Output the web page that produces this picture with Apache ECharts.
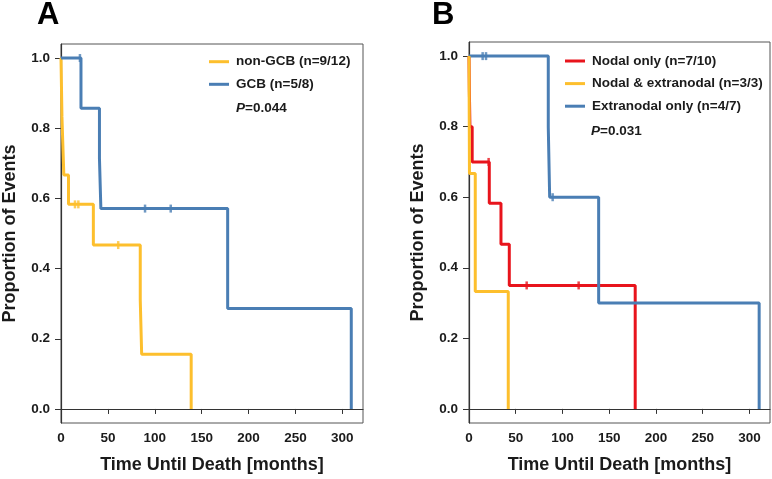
<!DOCTYPE html>
<html>
<head>
<meta charset="utf-8">
<script src="https://cdn.jsdelivr.net/npm/echarts@6/dist/echarts.min.js"></script>
<style>
html,body{margin:0;padding:0;background:#fff;}
#chart{width:772px;height:479px;}
</style>
</head>
<body>
<div id="chart"></div>
<script>
// ---------- DATA ----------
const xTicks = [0, 50, 100, 150, 200, 250, 300];
const yTicks = [0, 0.2, 0.4, 0.6, 0.8, 1.0];

// Panel A
const aNonGcbName = 'non-GCB (n=9/12)';
const aNonGcbTimes = [0, 0.5, 1, 2, 3, 8, 34.5, 84.5, 86, 138.8];
const aNonGcbSurv  = [1, 0.917, 0.833, 0.75, 0.667, 0.583, 0.467, 0.311, 0.156, 0];
const aNonGcbCensorTimes = [14.9, 18.5, 61];
const aNonGcbCensorSurv  = [0.583, 0.583, 0.467];

const aGcbName = 'GCB (n=5/8)';
const aGcbTimes = [0, 21.3, 41, 42.5, 177.7, 309.5];
const aGcbSurv  = [1, 0.857, 0.714, 0.571, 0.286, 0];
const aGcbCensorTimes = [20.2, 89.6, 117];
const aGcbCensorSurv  = [1, 0.571, 0.571];
const aPValue = '0.044';

// Panel B
const bNodalName = 'Nodal only (n=7/10)';
const bNodalTimes = [0, 0.4, 1, 3.4, 21.7, 34.2, 43.1, 177.8];
const bNodalSurv  = [1, 0.9, 0.8, 0.7, 0.583, 0.467, 0.35, 0];
const bNodalCensorTimes = [21, 61.7, 117.3];
const bNodalCensorSurv  = [0.7, 0.35, 0.35];

const bBothName = 'Nodal & extranodal (n=3/3)';
const bBothTimes = [0, 0.5, 6.7, 42];
const bBothSurv  = [1, 0.667, 0.333, 0];
const bBothCensorTimes = [];
const bBothCensorSurv  = [];

const bExtraName = 'Extranodal only (n=4/7)';
const bExtraTimes = [0, 84.8, 86.3, 138.7, 310.4];
const bExtraSurv  = [1, 0.8, 0.6, 0.3, 0];
const bExtraCensorTimes = [14.6, 18.2, 89.5];
const bExtraCensorSurv  = [1, 1, 0.6];
const bPValue = '0.031';

// ---------- STYLE ----------
const YELLOW = '#FDBF2D';
const BLUE = '#4A7EB4';
const RED = '#E8141C';
const FONT = '"Liberation Sans", Arial, Helvetica, sans-serif';
const TXT = '#1b1b1b';

function zip(a, b) { return a.map((v, i) => [v, b[i]]); }

function kmSeries(name, times, surv, color, idx) {
  return {
    name: name, type: 'line', step: 'end',
    xAxisIndex: idx, yAxisIndex: idx,
    data: zip(times, surv),
    symbol: 'none', silent: true, animation: false,
    lineStyle: { color: color, width: 3 },
    itemStyle: { color: color }
  };
}
function censorSeries(times, surv, color, idx) {
  return {
    type: 'scatter', xAxisIndex: idx, yAxisIndex: idx,
    data: zip(times, surv), symbol: 'rect', symbolSize: [2.5, 8],
    silent: true, animation: false,
    itemStyle: { color: color }
  };
}
function xAxis(idx) {
  return {
    type: 'value', gridIndex: idx, min: 0, max: 322,
    name: 'Time Until Death [months]', nameLocation: 'middle', nameGap: 33,
    nameTextStyle: { fontFamily: FONT, fontWeight: 'bold', fontSize: 18, color: TXT },
    axisLine: { show: true, lineStyle: { color: '#333', width: 1.2 } },
    axisTick: { show: true, length: 5, customValues: xTicks, lineStyle: { color: '#333' } },
    axisLabel: { customValues: xTicks, margin: 8, fontFamily: FONT, fontWeight: 'bold', fontSize: 13.5, color: TXT },
    splitLine: { show: false }
  };
}
function yAxis(idx) {
  return {
    type: 'value', gridIndex: idx, min: -0.04, max: 1.04,
    name: 'Proportion of Events', nameLocation: 'middle', nameGap: 42,
    nameTextStyle: { fontFamily: FONT, fontWeight: 'bold', fontSize: 18, color: TXT },
    axisLine: { show: true, lineStyle: { color: '#333', width: 1.2 } },
    axisTick: { show: true, length: 6, customValues: yTicks, lineStyle: { color: '#333' } },
    axisLabel: { customValues: yTicks, margin: 11, fontFamily: FONT, fontWeight: 'bold', fontSize: 13.5, color: TXT,
      formatter: v => v.toFixed(1) },
    splitLine: { show: false }
  };
}
function legend(names, left, top) {
  return {
    data: names, orient: 'vertical', left: left, top: top, padding: 0,
    itemWidth: 20, itemHeight: 3, itemGap: 6.6, icon: 'rect', selectedMode: false,
    textStyle: { fontFamily: FONT, fontWeight: 'bold', fontSize: 13.5, color: TXT, lineHeight: 16, padding: [0, 0, 0, 2] }
  };
}
function pText(x, y, p) {
  return {
    type: 'text', left: x, top: y, silent: true,
    style: {
      text: '{i|P}{n|=' + p + '}',
      rich: {
        i: { fontFamily: FONT, fontWeight: 'bold', fontStyle: 'italic', fontSize: 13.5, fill: TXT },
        n: { fontFamily: FONT, fontWeight: 'bold', fontSize: 13.5, fill: TXT }
      }
    }
  };
}

const chart = echarts.init(document.getElementById('chart'), null, { renderer: 'canvas' });
chart.setOption({
  animation: false,
  backgroundColor: '#fff',
  grid: [
    { left: 61, top: 44, width: 302, height: 382, show: true, borderColor: '#555', borderWidth: 1, containLabel: false },
    { left: 469, top: 42, width: 301, height: 381, show: true, borderColor: '#555', borderWidth: 1, containLabel: false }
  ],
  xAxis: [xAxis(0), xAxis(1)],
  yAxis: [yAxis(0), yAxis(1)],
  legend: [
    legend([aNonGcbName, aGcbName], 209, 53.7),
    legend([bNodalName, bBothName, bExtraName], 565, 53)
  ],
  graphic: [
    { type: 'text', left: 37, top: 0, silent: true,
      style: { text: 'A', fontFamily: FONT, fontWeight: 'bold', fontSize: 31, fill: '#000' } },
    { type: 'text', left: 432, top: 0, silent: true,
      style: { text: 'B', fontFamily: FONT, fontWeight: 'bold', fontSize: 31, fill: '#000' } },
    pText(236, 101.5, aPValue),
    pText(591, 124.5, bPValue)
  ],
  series: [
    kmSeries(aNonGcbName, aNonGcbTimes, aNonGcbSurv, YELLOW, 0),
    censorSeries(aNonGcbCensorTimes, aNonGcbCensorSurv, YELLOW, 0),
    kmSeries(aGcbName, aGcbTimes, aGcbSurv, BLUE, 0),
    censorSeries(aGcbCensorTimes, aGcbCensorSurv, BLUE, 0),
    kmSeries(bNodalName, bNodalTimes, bNodalSurv, RED, 1),
    censorSeries(bNodalCensorTimes, bNodalCensorSurv, RED, 1),
    kmSeries(bExtraName, bExtraTimes, bExtraSurv, BLUE, 1),
    censorSeries(bExtraCensorTimes, bExtraCensorSurv, BLUE, 1),
    kmSeries(bBothName, bBothTimes, bBothSurv, YELLOW, 1),
    censorSeries(bBothCensorTimes, bBothCensorSurv, YELLOW, 1)
  ]
});
</script>
</body>
</html>
